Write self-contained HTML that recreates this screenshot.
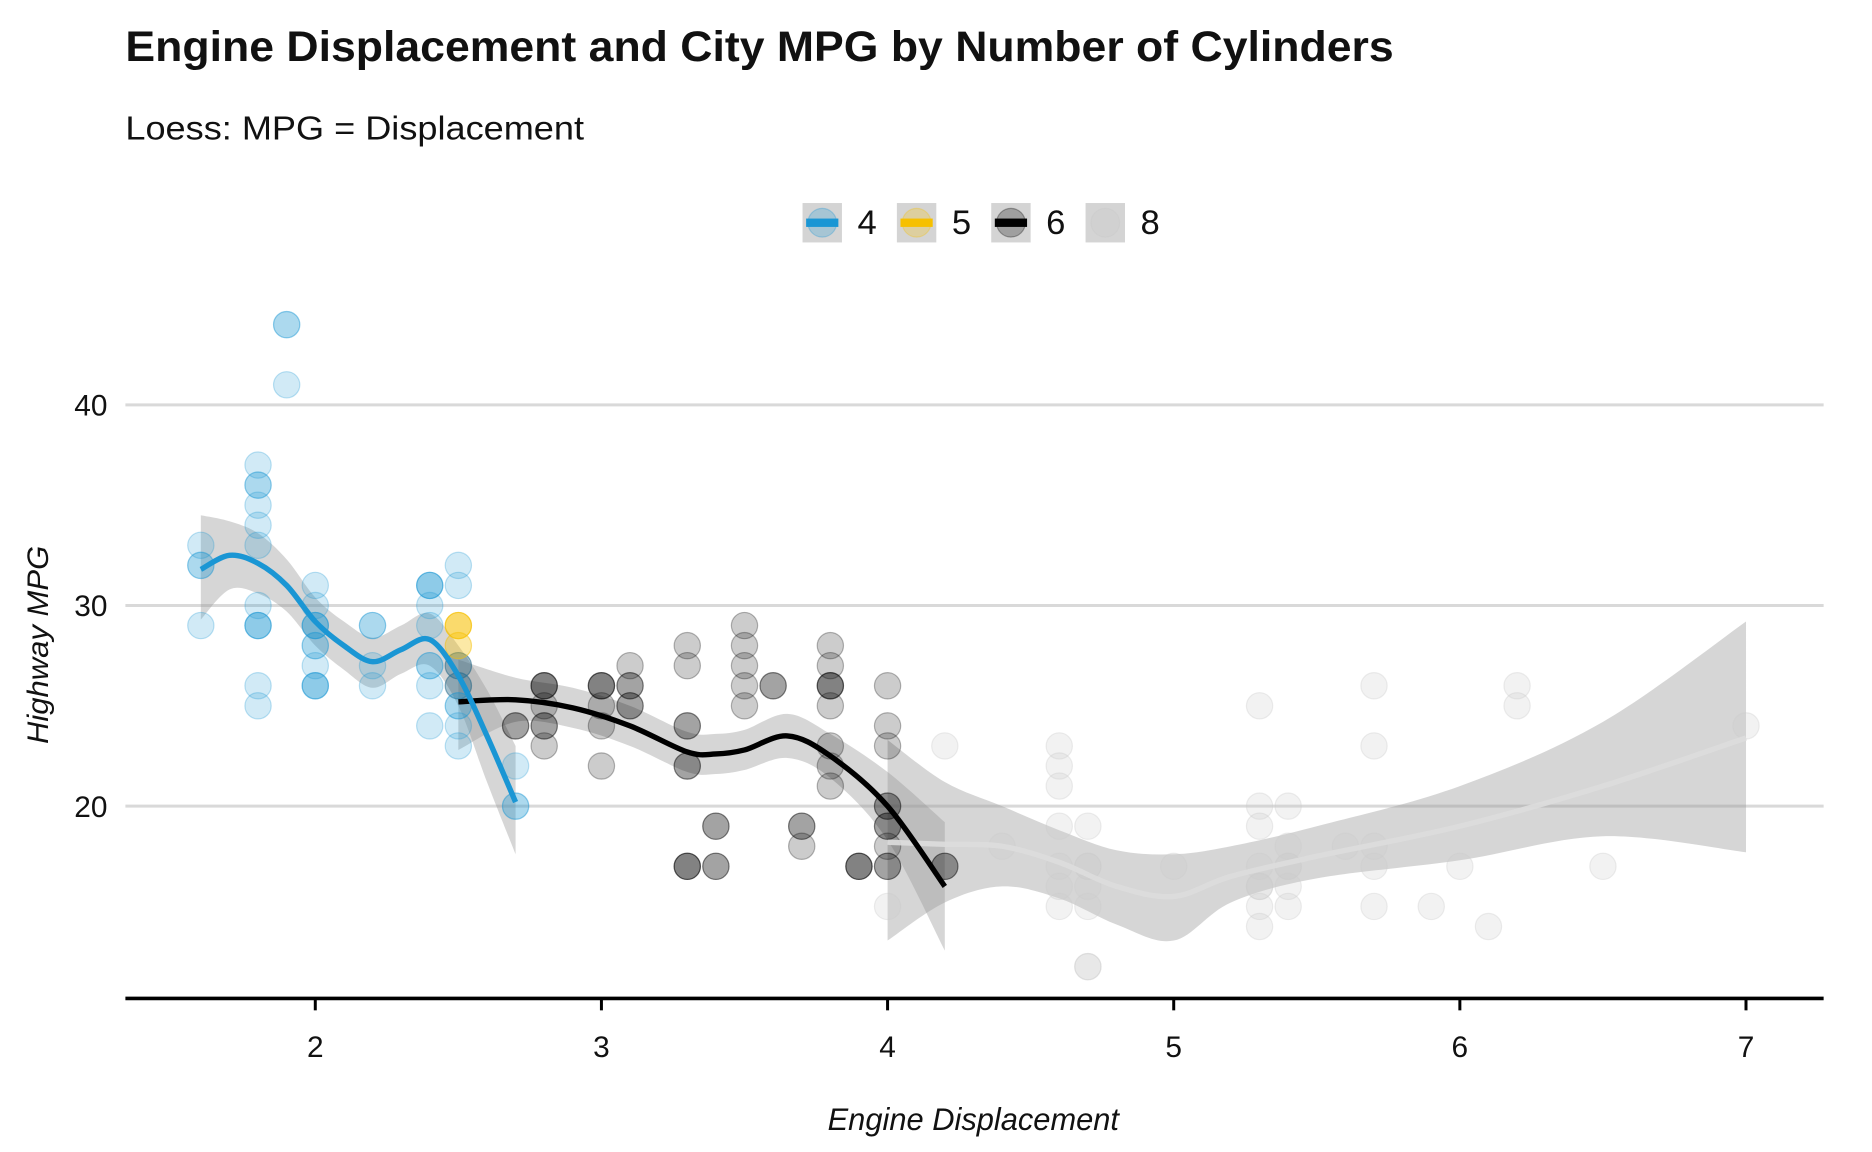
<!DOCTYPE html>
<html><head><meta charset="utf-8"><style>
html,body{margin:0;padding:0;background:#fff;}
svg{display:block;font-family:"Liberation Sans",sans-serif;}
</style></head><body>
<svg id="chart" width="1872" height="1152" viewBox="0 0 1567.5 964.6" xmlns="http://www.w3.org/2000/svg">
<text x="105" y="51" font-size="36" font-weight="bold" fill="#111" textLength="1062" lengthAdjust="spacingAndGlyphs">Engine Displacement and City MPG by Number of Cylinders</text>
<text x="105" y="117" font-size="28" fill="#111" textLength="384" lengthAdjust="spacingAndGlyphs">Loess: MPG = Displacement</text>
<g id="legend"></g>
<g id="grid"></g>
<g id="bands"></g>
<g id="points"></g>
<g id="lines"></g>
<g id="axes"></g>
<text transform="translate(40,540) rotate(-90)" text-anchor="middle" font-size="25" font-style="italic" fill="#111" textLength="166" lengthAdjust="spacingAndGlyphs">Highway MPG</text>
<text x="815" y="946" text-anchor="middle" font-size="26" font-style="italic" fill="#111" textLength="244" lengthAdjust="spacingAndGlyphs">Engine Displacement</text>
</svg>
<script>
const xTicks=[2,3,4,5,6,7];
const yTicks=[20,30,40];
const groups=["4","5","6","8"];
const colors={"4":"#1a96d4","5":"#f6c000","6":"#000000","8":"#cfcfcf"};
const pts4=[[1.6,33],[1.6,32],[1.6,32],[1.6,29],[1.8,37],[1.8,36],[1.8,36],[1.8,35],[1.8,34],[1.8,33],[1.8,30],[1.8,29],[1.8,29],[1.8,29],[1.8,26],[1.8,25],[1.9,44],[1.9,44],[1.9,41],[2.0,31],[2.0,30],[2.0,29],[2.0,29],[2.0,29],[2.0,28],[2.0,28],[2.0,27],[2.0,26],[2.0,26],[2.0,26],[2.2,29],[2.2,29],[2.2,27],[2.2,26],[2.4,31],[2.4,31],[2.4,31],[2.4,30],[2.4,29],[2.4,27],[2.4,27],[2.4,26],[2.4,24],[2.5,32],[2.5,31],[2.5,27],[2.5,26],[2.5,25],[2.5,25],[2.5,24],[2.5,23],[2.7,22],[2.7,20],[2.7,20]];
const pts5=[[2.5,29],[2.5,29],[2.5,28]];
const pts6=[[2.5,27],[2.5,26],[2.7,24],[2.7,24],[2.8,26],[2.8,26],[2.8,26],[2.8,25],[2.8,24],[2.8,24],[2.8,23],[3.0,26],[3.0,26],[3.0,26],[3.0,25],[3.0,24],[3.0,22],[3.1,27],[3.1,26],[3.1,26],[3.1,25],[3.1,25],[3.3,28],[3.3,27],[3.3,24],[3.3,24],[3.3,22],[3.3,22],[3.3,17],[3.3,17],[3.3,17],[3.4,19],[3.4,19],[3.4,17],[3.4,17],[3.5,29],[3.5,28],[3.5,27],[3.5,26],[3.5,25],[3.6,26],[3.6,26],[3.7,19],[3.7,19],[3.7,18],[3.8,28],[3.8,27],[3.8,26],[3.8,26],[3.8,26],[3.8,25],[3.8,23],[3.8,22],[3.8,21],[3.9,17],[3.9,17],[3.9,17],[4.0,26],[4.0,24],[4.0,23],[4.0,20],[4.0,20],[4.0,19],[4.0,19],[4.0,18],[4.0,17],[4.0,17],[4.2,17],[4.2,17]];
const pts8=[[4.0,15],[4.2,23],[4.4,18],[4.6,23],[4.6,22],[4.6,21],[4.6,19],[4.6,17],[4.6,16],[4.6,15],[4.7,19],[4.7,17],[4.7,17],[4.7,16],[4.7,15],[4.7,12],[4.7,12],[5.0,17],[5.3,25],[5.3,20],[5.3,19],[5.3,17],[5.3,16],[5.3,16],[5.3,15],[5.3,14],[5.4,20],[5.4,18],[5.4,17],[5.4,17],[5.4,16],[5.4,15],[5.6,18],[5.7,26],[5.7,23],[5.7,18],[5.7,17],[5.7,15],[5.9,15],[6.0,17],[6.1,14],[6.2,26],[6.2,25],[6.5,17],[7.0,24]];
const fit4=[[1.6,31.8,34.5,29.3],[1.7,32.5,34.2,30.8],[1.8,32.1,33.6,30.6],[1.9,31,32.3,29.7],[2.0,29.2,30.4,28],[2.1,28,29.2,26.8],[2.2,27.2,28.4,25.9],[2.3,27.8,29,26.6],[2.4,28.3,29.6,27],[2.5,26.5,28,25],[2.6,23.5,25.8,21.2],[2.7,20.2,23,17.6]];
const fit6=[[2.5,25.2,27.3,22.8],[2.7,25.3,26.4,24.2],[2.9,24.9,25.9,23.9],[3.1,24,25,23],[3.3,22.7,23.7,21.7],[3.4,22.6,23.6,21.6],[3.5,22.8,23.8,21.8],[3.65,23.5,24.6,22.4],[3.8,22.5,23.6,21.4],[4.0,20,21.7,18.3],[4.2,16,19.2,12.8]];
const fit8=[[4.0,18.2,23.3,13.3],[4.2,18.1,21.2,15.2],[4.4,18,20,16],[4.6,17.2,18.8,15.4],[4.8,16,17.8,14.1],[5.0,15.5,17.6,13.3],[5.2,16.5,18,15.2],[5.5,17.5,19,16.4],[6.0,19,21,17.3],[6.5,21,24.2,18.5],[7.0,23.4,29.2,17.7]];
const NS="http://www.w3.org/2000/svg";
const X=v=>264+(v-2)*239.6, Y=v=>675-(v-20)*16.8;
function mk(parent,tag,attrs){const e=document.createElementNS(NS,tag);for(const k in attrs)e.setAttribute(k,attrs[k]);document.getElementById(parent).appendChild(e);return e;}
function smooth(P){let d='M'+P[0][0]+','+P[0][1];for(let i=0;i<P.length-1;i++){const p0=P[Math.max(0,i-1)],p1=P[i],p2=P[i+1],p3=P[Math.min(P.length-1,i+2)];
 d+='C'+(p1[0]+(p2[0]-p0[0])/6)+','+(p1[1]+(p2[1]-p0[1])/6)+' '+(p2[0]-(p3[0]-p1[0])/6)+','+(p2[1]-(p3[1]-p1[1])/6)+' '+p2[0]+','+p2[1];}return d;}
yTicks.forEach(t=>{
 const l=mk('grid','line',{x1:105,x2:1527,y1:Y(t),y2:Y(t),stroke:'#d9d9d9','stroke-width':2.5});
 
 
 const tx=mk('axes','text',{x:90,y:Y(t)+9,'text-anchor':'end','font-size':25,fill:'#111'});tx.textContent=t;
 
 
});
const ax=mk('axes','line',{x1:105,x2:1527,y1:836,y2:836,stroke:'#000','stroke-width':3});


xTicks.forEach(t=>{
 const tk=mk('axes','line',{x1:X(t),x2:X(t),y1:836,y2:846,stroke:'#000','stroke-width':2.5});
 
 
 const tx=mk('axes','text',{x:X(t),y:885,'text-anchor':'middle','font-size':25,fill:'#111'});tx.textContent=t;
 
 
});
function band(fit,name){
 const up=fit.map(p=>[X(p[0]),Y(p[2])]), lo=fit.slice().reverse().map(p=>[X(p[0]),Y(p[3])]);
 const d=smooth(up)+'L'+smooth(lo).slice(1)+'Z';
 const b=mk('bands','path',{d:d,fill:'#999','fill-opacity':0.4});
 
 
}
function line(fit,c,name,op){
 const d=smooth(fit.map(p=>[X(p[0]),Y(p[1])]));
 const l=mk('lines','path',{d:d,fill:'none',stroke:c,'stroke-width':4.5,'stroke-opacity':op,'stroke-linejoin':'round'});
 
 
}
band(fit4,'band-4-cyl');band(fit6,'band-6-cyl');band(fit8,'band-8-cyl');
function pts(arr,c,op,name){arr.forEach(p=>{
 const e=mk('points','circle',{cx:X(p[0]),cy:Y(p[1]),r:11,fill:c,'fill-opacity':op,stroke:c,'stroke-opacity':op*1.4});
 
 
});}
pts(pts8,'#cccccc',0.25,'point-8-cyl');
pts(pts6,'#000000',0.2,'point-6-cyl');
pts(pts4,'#1a96d4',0.2,'point-4-cyl');
pts(pts5,'#f6c000',0.35,'point-5-cyl');
line(fit8,'#dddddd','loess-8-cyl',0.9);
line(fit6,'#000000','loess-6-cyl',1);
line(fit4,'#1a96d4','loess-4-cyl',1);
const lx=[672,751,830,909];
groups.forEach((g,i)=>{
 const r=mk('legend','rect',{x:lx[i],y:170,width:33,height:33,fill:'#d4d4d4'});
 
 
 const c=mk('legend','circle',{cx:lx[i]+16.5,cy:186.5,r:12,fill:g=='8'?'#c8c8c8':colors[g],'fill-opacity':0.25,stroke:g=='8'?'#c8c8c8':colors[g],'stroke-opacity':0.3});
 
 
 if(g!='8'){const b=mk('legend','rect',{x:lx[i]+3,y:183,width:27,height:7,fill:colors[g]});
 
 }
 const t=mk('legend','text',{x:lx[i]+46,y:196,'font-size':29,fill:'#111'});t.textContent=g;
 
 
});
</script>
</body></html>
